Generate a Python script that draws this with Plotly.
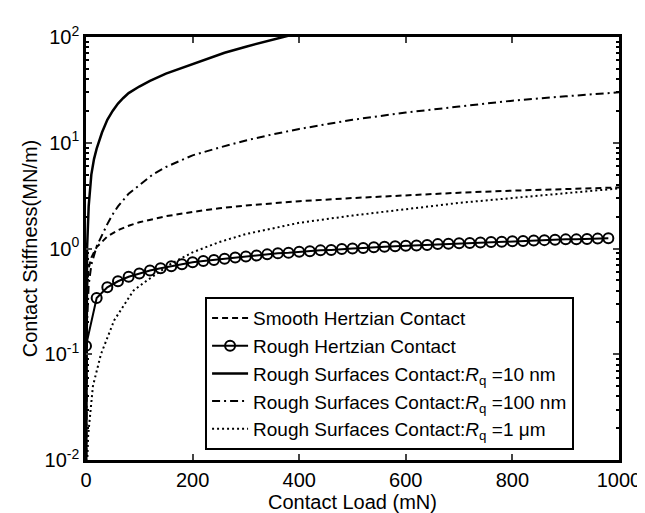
import plotly.graph_objects as go

# ---- data ----
smooth_x = [0.1, 1, 5, 10, 20, 40, 60, 80, 100, 150, 200, 250, 300, 400, 500, 600, 700, 800, 900, 1000]
smooth_y = [0.18, 0.38, 0.65, 0.82, 1.03, 1.3, 1.49, 1.64, 1.77, 2.02, 2.22, 2.4, 2.55, 2.8, 3.0, 3.2, 3.37, 3.52, 3.65, 3.78]

rough_hz_x = list(range(0, 1000, 20))
rough_hz_y = [0.12, 0.34, 0.43, 0.49, 0.54, 0.58, 0.62, 0.65, 0.68, 0.71,
              0.74, 0.76, 0.78, 0.80, 0.82, 0.84, 0.86, 0.88, 0.90, 0.91,
              0.93, 0.94, 0.96, 0.97, 0.99, 1.00, 1.01, 1.03, 1.04, 1.05,
              1.06, 1.07, 1.08, 1.10, 1.11, 1.12, 1.13, 1.14, 1.15, 1.16,
              1.17, 1.18, 1.19, 1.20, 1.21, 1.22, 1.22, 1.23, 1.24, 1.25]

rq10_x = [0.3, 1, 2, 5, 10, 15, 20, 30, 40, 50, 60, 70, 80, 100, 120, 150, 180, 220, 260, 300, 340, 370, 390]
rq10_y = [0.005, 0.4, 1.0, 2.5, 5.0, 7.0, 8.8, 12.5, 16.5, 20.0, 23.5, 26.5, 29.5, 34.0, 38.5, 45.0, 51.0, 61.0, 71.0, 81.0, 92.0, 100.0, 106.0]

rq100_x = [0.3, 2, 5, 10, 20, 30, 40, 50, 60, 80, 100, 125, 150, 200, 250, 300, 350, 400, 500, 600, 700, 800, 900, 1000]
rq100_y = [0.005, 0.2, 0.45, 0.7, 1.05, 1.35, 1.7, 2.1, 2.5, 3.3, 4.0, 5.0, 5.9, 7.6, 9.0, 10.5, 12.0, 13.5, 16.5, 19.3, 22.0, 25.0, 27.5, 30.0]

rq1000_x = [0.5, 4, 13, 28, 53, 89, 110, 137, 160, 200, 250, 300, 357, 400, 500, 600, 700, 800, 900, 1000]
rq1000_y = [0.005, 0.017, 0.05, 0.1, 0.21, 0.4, 0.48, 0.6, 0.72, 0.92, 1.15, 1.37, 1.58, 1.75, 2.05, 2.35, 2.7, 3.0, 3.35, 3.7]

ytick_vals = [0.01, 0.1, 1, 10, 100]
ytick_text = ["10<sup>-2</sup>", "10<sup>-1</sup>", "10<sup>0</sup>", "10<sup>1</sup>", "10<sup>2</sup>"]
xtick_vals = [0, 200, 400, 600, 800, 1000]

names = [
    "Smooth Hertzian Contact",
    "Rough Hertzian Contact",
    "Rough Surfaces Contact:<i>R</i><sub>q</sub> =10 nm",
    "Rough Surfaces Contact:<i>R</i><sub>q</sub> =100 nm",
    "Rough Surfaces Contact:<i>R</i><sub>q</sub> =1 μm",
]

FONT = "Liberation Sans, Arial, Helvetica, sans-serif"
FS = 20
LFS = 19

fig = go.Figure()
fig.add_trace(go.Scatter(x=smooth_x, y=smooth_y, mode="lines", name=names[0], legendgroup="a",
                         line=dict(color="black", width=2, dash="6px,4px")))
fig.add_trace(go.Scatter(x=rough_hz_x, y=rough_hz_y, mode="lines+markers", name=names[1], legendgroup="b",
                         line=dict(color="black", width=2),
                         marker=dict(symbol="circle-open", size=10, color="black", line=dict(width=2))))
fig.add_trace(go.Scatter(x=rq10_x, y=rq10_y, mode="lines", name=names[2], legendgroup="c",
                         line=dict(color="black", width=2.5)))
fig.add_trace(go.Scatter(x=rq100_x, y=rq100_y, mode="lines", name=names[3], legendgroup="d",
                         line=dict(color="black", width=2, dash="8px,4px,2px,4px")))
fig.add_trace(go.Scatter(x=rq1000_x, y=rq1000_y, mode="lines", name=names[4], legendgroup="e",
                         line=dict(color="black", width=2, dash="2px,3px")))

minor_vals = [m * 10 ** e for e in (-2, -1, 0, 1) for m in range(2, 10)]

fig.update_layout(
    width=645, height=513,
    margin=dict(l=78, r=21, t=29, b=54),
    paper_bgcolor="white", plot_bgcolor="white",
    font=dict(family=FONT, size=FS, color="black"),
    showlegend=True,
    legend=dict(x=0.2234, y=0.385, xanchor="left", yanchor="top",
                bordercolor="black", borderwidth=2, bgcolor="white",
                font=dict(family=FONT, size=LFS, color="black"),
                tracegroupgap=0, itemwidth=36),
    xaxis=dict(range=[0, 1000], tickvals=xtick_vals, ticks="inside", ticklen=6, tickwidth=2,
               showline=True, linewidth=2.5, linecolor="black", mirror="ticks",
               showgrid=False, zeroline=False, ticklabeloverflow="allow",
               title=dict(text="Contact Load (mN)", font=dict(size=FS), standoff=4),
               tickfont=dict(size=FS)),
    yaxis=dict(type="log", range=[-2, 2], tickvals=ytick_vals, ticktext=ytick_text,
               ticks="inside", ticklen=6, tickwidth=2,
               showline=True, linewidth=2.5, linecolor="black", mirror="ticks",
               showgrid=False, zeroline=False,
               minor=dict(tickvals=minor_vals, ticks="inside", ticklen=3, tickwidth=1.5,
                          tickcolor="black", showgrid=False),
               title=dict(text="Contact Stiffness(MN/m)", font=dict(size=FS), standoff=2),
               tickfont=dict(size=FS)),
)

fig.write_html("out.html")
